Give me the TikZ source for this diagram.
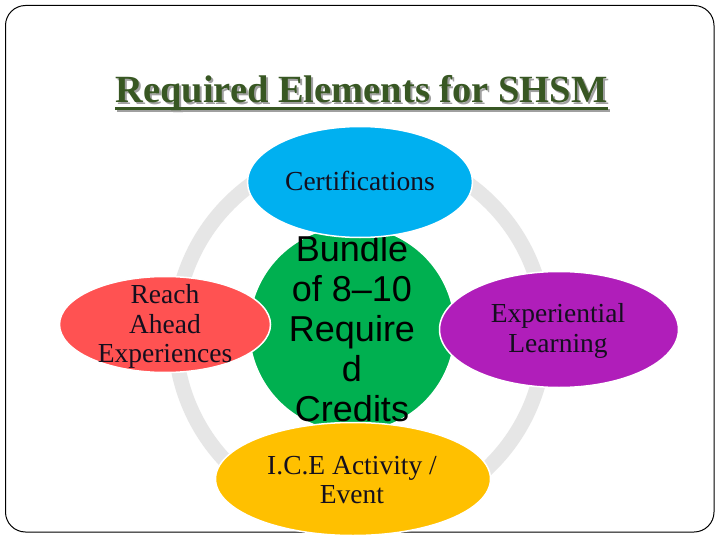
\documentclass[tikz,border=0pt]{standalone}
\usepackage{fontspec}
\setmainfont{Liberation Serif}
\newfontfamily\arialf{Liberation Sans}
\usetikzlibrary{shapes.geometric}
\definecolor{titlegreen}{RGB}{56,87,35}
\definecolor{shadowgray}{RGB}{160,160,160}
\definecolor{ringgray}{RGB}{230,230,230}
\definecolor{cblue}{RGB}{0,176,240}
\definecolor{cred}{RGB}{255,82,82}
\definecolor{cgreen}{RGB}{0,176,80}
\definecolor{cpurple}{RGB}{176,30,186}
\definecolor{cyellow}{RGB}{255,192,0}
\definecolor{textdark}{RGB}{20,15,30}
\tikzset{
  x=1pt, y=-1pt,
  elli/.style={ellipse, draw=white, line width=1.5pt, inner sep=0pt},
  serlabel/.style={inner sep=0pt, align=center, text=textdark, font=\fontsize{27.5}{29.5}\selectfont},
  sanslabel/.style={inner sep=0pt, align=center, text=black, font=\arialf\fontsize{36}{40}\selectfont},
  ringstyle/.style={draw=ringgray, line width=15pt},
}
\begin{document}
\begin{tikzpicture}
\useasboundingbox (0,0) rectangle (720,540);
\fill[white] (0,0) rectangle (720,540);
\draw[black, line width=1pt, rounded corners=20pt] (5.5,5.5) rectangle (714,532);
% title
\node[inner sep=0pt, anchor=base, text=shadowgray, font=\bfseries\fontsize{38.5}{40}\selectfont] (titleshadow) at (363.5,105) {Required Elements for SHSM};
\draw[shadowgray, line width=2.5pt] ([yshift=-5.5pt]titleshadow.base west) -- ([yshift=-5.5pt]titleshadow.base east);
\node[inner sep=0pt, anchor=base, text=titlegreen, font=\bfseries\fontsize{38.5}{40}\selectfont] (title) at (361.5,103) {Required Elements for SHSM};
\draw[titlegreen, line width=2.5pt] ([yshift=-5.5pt]title.base west) -- ([yshift=-5.5pt]title.base east);
% ring
\coordinate (ringc) at (360,334);
\draw[ringstyle] (ringc) circle[radius=185];
% centre
\node[elli, fill=cgreen, minimum width=206pt, minimum height=206pt] (bundle) at (352,329) {};
\node[sanslabel] (bundletext) at (352,329) {Bundle\\of 8–10\\Require\\d\\Credits};
% satellites
\node[elli, fill=cblue, minimum width=225pt, minimum height=111pt] (cert) at (360,182) {};
\node[serlabel, anchor=base] (certtext) at (360,191) {Certifications};
\node[elli, fill=cred, minimum width=211pt, minimum height=96pt] (reach) at (165,324.5) {};
\node[serlabel] (reachtext) at (165,326.5) {Reach\\Ahead\\Experiences};
\node[elli, fill=cpurple, minimum width=239pt, minimum height=116pt] (exp) at (559,329.5) {};
\node[serlabel] (exptext) at (558,331) {Experiential\\Learning};
\node[elli, fill=cyellow, minimum width=275pt, minimum height=113pt] (ice) at (353,479) {};
\node[serlabel] (icetext) at (352,480) {I.C.E Activity /\\Event};
\end{tikzpicture}
\end{document}
